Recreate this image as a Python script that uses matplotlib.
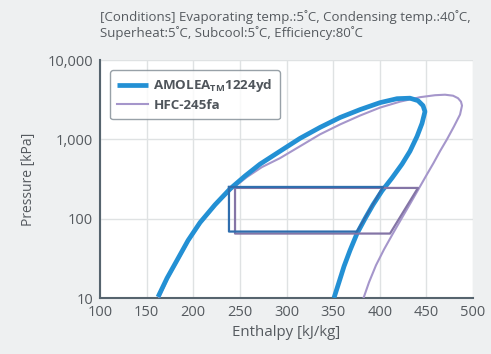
import matplotlib
matplotlib.use("Agg")
import matplotlib.pyplot as plt
from matplotlib.ticker import FixedLocator, NullLocator

# ---- data ----
# AMOLEA 1224yd saturation dome (enthalpy kJ/kg, pressure kPa)
amo_h = [162.2, 171.9, 182.6, 194.4, 207.2, 223.3, 239.4, 255.5, 271.6, 293.0,
         314.5, 335.9, 357.4, 378.9, 400.3, 418.5, 432.4, 441.0, 446.4, 448.5,
         445.3, 440.0, 432.4, 423.9, 413.1, 402.4, 392.8, 384.2, 375.6, 368.1,
         361.7, 356.3, 350.9]
amo_p = [10.3, 17.8, 29.9, 53.1, 89.1, 149.6, 237, 345, 487, 708,
         1029, 1413, 1884, 2371, 2900, 3254, 3302, 3073, 2661, 2239,
         1585, 1090, 708, 487, 325, 224, 150, 100, 64.9, 39.8,
         25.1, 15.8, 10]
# HFC-245fa saturation dome
hfc_h = [163.3, 172.9, 183.6, 195.4, 208.3, 224.4, 241.6, 257.6, 273.7, 293.0,
         314.5, 335.9, 357.4, 378.9, 400.3, 421.7, 443.2, 459.3, 470.0, 478.6,
         483.9, 487.1, 488.2, 486.1, 479.6, 472.1, 464.6, 457.6, 450.2, 442.3,
         433.1, 423.9, 414.7, 404.6, 396.0, 388.5, 382.6]
hfc_p = [10, 17.8, 29.9, 53.1, 89.1, 149.6, 237, 335, 447, 579,
         818, 1155, 1540, 1995, 2512, 2985, 3398, 3599, 3652, 3548,
         3302, 2985, 2661, 2054, 1454, 1000, 708, 501, 355, 244,
         158, 103, 66.8, 41.0, 25.9, 15.8, 10]
# refrigeration cycles: expansion inlet -> evap outlet -> compressor outlet -> condenser outlet -> close
amo_cyc_h = [238.3, 238.3, 375.6, 403.5, 238.3]
amo_cyc_p = [251, 68.8, 68.8, 251, 251]
hfc_cyc_h = [244.8, 244.8, 411.0, 441.0, 244.8]
hfc_cyc_p = [244, 64.9, 64.9, 244, 244]

x_ticks = [100, 150, 200, 250, 300, 350, 400, 450, 500]
y_ticks = [10, 100, 1000, 10000]
y_tick_labels = ["10", "100", "1,000", "10,000"]

title_text = ("[Conditions] Evaporating temp.:5˚C, Condensing temp.:40˚C,\n"
              "Superheat:5˚C, Subcool:5˚C, Efficiency:80˚C")
amo_label = r"AMOLEA$_{\mathsf{TM}}$1224yd"
hfc_label = "HFC-245fa"

# ---- style ----
plt.rcParams['font.family'] = ['Open Sans', 'DejaVu Sans']
plt.rcParams['mathtext.fontset'] = 'custom'
plt.rcParams['mathtext.rm'] = 'Open Sans'
plt.rcParams['mathtext.sf'] = 'Open Sans:bold'
txt_col = "#555a5f"
fig = plt.figure(figsize=(4.91, 3.54), dpi=100)
fig.patch.set_facecolor("#eef0f1")
ax = fig.add_axes([100/491, 1-298/354, 373/491, 238/354])
ax.set_facecolor("white")

ax.plot(hfc_h, hfc_p, color="#a596cb", lw=1.5, label=hfc_label, zorder=3,
        solid_joinstyle="round")
ax.plot(amo_h, amo_p, color="#2390d4", lw=3.4, label=amo_label, zorder=4,
        solid_capstyle="butt", solid_joinstyle="round")
ax.plot(hfc_cyc_h, hfc_cyc_p, color="#8475a6", lw=1.6, zorder=5)
ax.plot(amo_cyc_h, amo_cyc_p, color="#2f6eae", lw=1.6, zorder=5)

ax.set_yscale("log")
ax.set_xlim(100, 500)
ax.set_ylim(10, 10000)
ax.xaxis.set_major_locator(FixedLocator(x_ticks))
ax.yaxis.set_major_locator(FixedLocator(y_ticks))
ax.yaxis.set_minor_locator(NullLocator())
ax.set_yticklabels(y_tick_labels)
ax.tick_params(axis="both", length=0, labelsize=10.5, colors=txt_col, pad=5)
ax.grid(True, color="#dfe2e3", lw=1.0)
ax.set_axisbelow(True)
for s in ["top", "right"]:
    ax.spines[s].set_visible(False)
for s in ["left", "bottom"]:
    ax.spines[s].set_color("#56646e")
    ax.spines[s].set_linewidth(1.5)

ax.set_xlabel("Enthalpy [kJ/kg]", fontsize=10.8, color=txt_col, labelpad=4)
ax.set_ylabel("Pressure [kPa]", fontsize=10, color=txt_col, labelpad=8)

fig.text(100/491, 1-10/354, title_text, fontsize=9.5, color=txt_col,
         va="top", ha="left", linespacing=1.2)

h, l = ax.get_legend_handles_labels()
leg = ax.legend([h[1], h[0]], [l[1], l[0]], loc="upper left",
                bbox_to_anchor=(0.027, 0.958), borderaxespad=0,
                prop={"family": ["Open Sans", "DejaVu Sans"], "weight": "bold",
                      "size": 9.6},
                frameon=True,
                fancybox=True, edgecolor="#7f8a92", handlelength=2.3,
                handletextpad=0.4, borderpad=0.55, labelspacing=0.35)
leg.get_frame().set_linewidth(1.0)
for t in leg.get_texts():
    t.set_color("#4f555b")

fig.savefig("out.png", dpi=100, facecolor=fig.get_facecolor())
